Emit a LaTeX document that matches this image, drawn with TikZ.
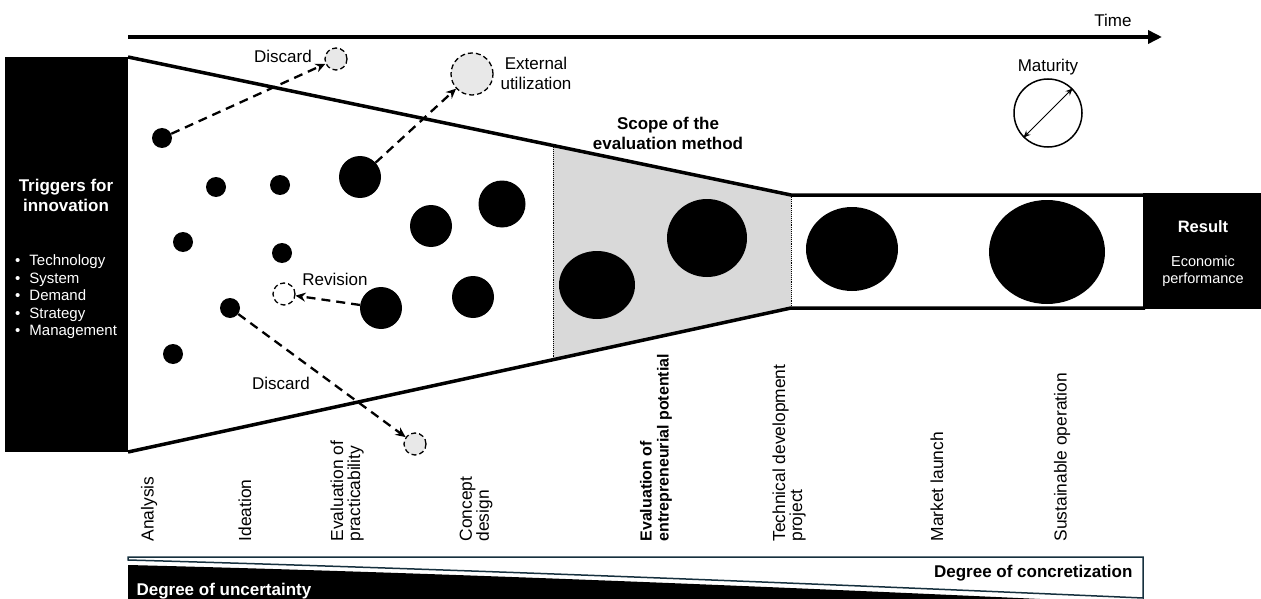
\documentclass[tikz,border=0pt]{standalone}
\usepackage{fontspec}
\setmainfont{Liberation Sans}
\usetikzlibrary{arrows.meta, shapes.geometric}

\definecolor{scopegray}{RGB}{217,217,217}
\definecolor{dropgray}{RGB}{232,232,232}
\definecolor{barline}{RGB}{22,48,62}

\begin{document}
\begin{tikzpicture}[x=1pt, y=-1pt, >=Stealth,
    idea/.style={circle, fill=black, inner sep=0pt, minimum size=#1},
    blob/.style={ellipse, fill=black, inner sep=0pt},
    dropped/.style={circle, draw, dash pattern=on 5pt off 3pt, line width=1.3pt, fill=dropgray, inner sep=0pt, minimum size=#1},
    flow/.style={-{Stealth[length=10pt,width=9pt]}, line width=2.3pt, dash pattern=on 9pt off 6pt},
    lbl/.style={font=\fontsize{17}{20}\selectfont},
    phase/.style={rotate=90, anchor=west, align=left, font=\fontsize{17.4}{17}\selectfont}
]

    \def\lw{3.5pt}
    \useasboundingbox (0,0) rectangle (1261,599);

    % time axis
    \coordinate (t0) at (128,37);
    \coordinate (t1) at (1162,37);
    \draw[line width=\lw, -{Triangle[length=14pt,width=13pt]}] (t0) -- (t1);
    \node[lbl] (time) at (1113,20) {Time};

    % scope of the evaluation method
    \fill[scopegray] (553,145.5) -- (791,195) -- (791,308) -- (553,359.7) -- cycle;
    \draw[densely dotted, line width=0.9pt] (553,145.5) -- (553,359.7);
    \draw[densely dotted, line width=0.9pt] (791,195) -- (791,308);
    \node[lbl, font=\fontsize{17}{20}\selectfont\bfseries, align=center] (scope) at (668,133)
        {Scope of the\\evaluation method};

    % funnel
    \draw[line width=\lw] (128,57) -- (791,195) -- (1145,195);
    \draw[line width=\lw] (128,452) -- (791,308) -- (1145,308);

    % triggers
    \fill (5,57) rectangle (128,452);
    \node[font=\fontsize{17}{20}\selectfont\bfseries, text=white, align=center] (trig) at (66,195)
        {Triggers for\\innovation};
    \node[font=\fontsize{15}{17.5}\selectfont, text=white, align=left, anchor=west, inner sep=0pt] (causes) at (15,297)
        {\textbullet\hspace{9pt}Technology\\
         \textbullet\hspace{9pt}System\\
         \textbullet\hspace{9pt}Demand\\
         \textbullet\hspace{9pt}Strategy\\
         \textbullet\hspace{9pt}Management};

    % result
    \fill (1143,193) rectangle (1261,309);
    \node[font=\fontsize{16.5}{20}\selectfont\bfseries, text=white] (res) at (1203,227) {Result};
    \node[font=\fontsize{14.5}{17}\selectfont, text=white, align=center] (econ) at (1203,271)
        {Economic\\performance};

    % ideas
    \foreach \name/\x/\y in {s1/162/138, s2/216/187, s3/280/185, s4/183/242,
                             s5/282/253, s6/230/308, s7/173/354}
        \node[idea=20pt] (\name) at (\x,\y) {};
    \foreach \name/\x/\y/\d in {b1/360/177/42pt, b2/431/226/42pt, b3/502/204/47pt,
                                b4/381/308/42pt, b5/473/297/42pt}
        \node[idea=\d] (\name) at (\x,\y) {};
    \node[blob, minimum width=76pt, minimum height=68pt] (e1) at (597,285) {};
    \node[blob, minimum width=80pt, minimum height=78pt] (e2) at (707,238) {};
    \node[blob, minimum width=92pt, minimum height=84pt] (e3) at (852,249) {};
    \node[blob, minimum width=116pt, minimum height=104pt] (e4) at (1047,252) {};

    % dropped ideas
    \node[dropped=22pt] (d1) at (336,59) {};
    \node[dropped=42pt] (d2) at (472,74) {};
    \node[dropped=22pt, fill=white] (d3) at (284,294) {};
    \node[dropped=22pt] (d4) at (415,444) {};

    \draw[flow] (s1) -- (d1);
    \draw[flow] (b1) -- (d2);
    \draw[flow] (b4) -- (d3);
    \draw[flow] (s6) -- (d4);

    \node[lbl] (disc1) at (283,56) {Discard};
    \node[lbl, align=center] (ext) at (536,73) {External\\utilization};
    \node[lbl] (rev) at (335,279) {Revision};
    \node[lbl] (disc2) at (281,383) {Discard};

    % maturity
    \node[circle, draw, line width=1.5pt, minimum size=68pt, inner sep=0pt] (mat) at (1048,113) {};
    \draw[<->, line width=1pt, >={Stealth[length=7pt,width=6pt]}] (mat.225) -- (mat.45);
    \node[lbl] (matlbl) at (1048,67) {Maturity};

    % phases
    \foreach \x/\txt in {149/Analysis, 245/Ideation, 347/{Evaluation of\\practicability},
                         476/{Concept\\design}, 789/{Technical development\\project},
                         937/Market launch, 1062/Sustainable operation}
        \node[phase] (ph\x) at (\x,545) {\txt};
    \node[phase, font=\fontsize{16}{17}\selectfont\bfseries] (ph656) at (656,545)
        {Evaluation of\\entrepreneurial potential};

    % degree bars
    \draw[barline, line width=1.5pt, fill=white] (128,557) -- (1143,557) -- (1143,598)
        .. controls (800,583) and (450,569) .. (128,560) -- cycle;
    \fill (128,565) .. controls (450,573) and (800,588) .. (1040,599) -- (128,599) -- cycle;
    \node[font=\fontsize{17}{20}\selectfont\bfseries, anchor=east] (concr) at (1136,573)
        {Degree of concretization};
    \node[font=\fontsize{17}{20}\selectfont\bfseries, text=white, anchor=west] (uncert) at (133,591)
        {Degree of uncertainty};

\end{tikzpicture}
\end{document}
